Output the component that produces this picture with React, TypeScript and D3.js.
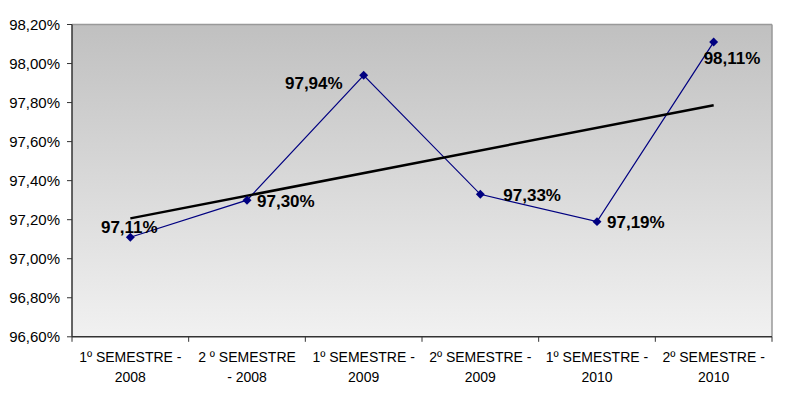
import React from "react";
import * as d3 from "d3";

const categories: string[][] = [
  ["1º SEMESTRE -", "2008"],
  ["2 º SEMESTRE", "- 2008"],
  ["1º SEMESTRE -", "2009"],
  ["2º SEMESTRE -", "2009"],
  ["1º SEMESTRE -", "2010"],
  ["2º SEMESTRE -", "2010"],
];
const values: number[] = [97.11, 97.3, 97.94, 97.33, 97.19, 98.11];
const yTicks: number[] = [96.6, 96.8, 97.0, 97.2, 97.4, 97.6, 97.8, 98.0, 98.2];
// label offsets relative to point: [dx, dy, anchor]
const labelOffsets: [number, number, string][] = [
  [-1, -4, "middle"],
  [10, 7, "start"],
  [-21, 14, "end"],
  [23, 7, "start"],
  [10, 6, "start"],
  [-10, 22, "start"],
];

const W = 805;
const H = 407;
const L = 72, R = 772, T = 24.5, B = 336.8;

const fmt = (v: number) => v.toFixed(2).replace(".", ",") + "%";

export default function App() {
  const x = d3.scaleBand<number>().domain(d3.range(values.length)).range([L, R]);
  const cx = (i: number) => (x(i) as number) + x.bandwidth() / 2;
  const y = d3.scaleLinear().domain([96.6, 98.2]).range([B, T]);

  const line = d3
    .line<number>()
    .x((_, i) => cx(i))
    .y((d) => y(d));

  // linear trend (least squares)
  const xs = values.map((_, i) => i + 1);
  const mx = d3.mean(xs) as number;
  const my = d3.mean(values) as number;
  const slope =
    d3.sum(xs.map((xi, i) => (xi - mx) * (values[i] - my))) /
    d3.sum(xs.map((xi) => (xi - mx) ** 2));
  const icpt = my - slope * mx;
  const trend = (k: number) => icpt + slope * (k + 1);
  const n = values.length;

  const font = "'Liberation Sans', Arial, sans-serif";
  const diamond = d3.symbol().type(d3.symbolSquare).size(40)() as string;

  return (
    <svg
      width={W}
      height={H}
      style={{ position: "absolute", left: 0, top: 0, background: "#fff" }}
      fontFamily={font}
    >
      <defs>
        <linearGradient id="bg" x1="0" y1="0" x2="0" y2="1">
          <stop offset="0" stopColor="#c0c0c0" />
          <stop offset="1" stopColor="#f1f1f1" />
        </linearGradient>
      </defs>
      <rect x={L} y={T} width={R - L} height={B - T} fill="url(#bg)" />
      <line x1={L} x2={R} y1={T} y2={T} stroke="#999" strokeWidth={1.5} />
      <line x1={R} x2={R} y1={T} y2={B} stroke="#999" strokeWidth={1.5} />
      {/* y axis */}
      <line x1={L} x2={L} y1={T} y2={B} stroke="#333" strokeWidth={1.5} />
      {yTicks.map((t) => (
        <g key={t}>
          <line x1={L - 5} x2={L} y1={y(t)} y2={y(t)} stroke="#333" strokeWidth={1} />
          <text x={60} y={y(t) + 5} textAnchor="end" fontSize={15} fill="#000">
            {fmt(t)}
          </text>
        </g>
      ))}
      {/* x axis */}
      <line x1={L} x2={R} y1={B} y2={B} stroke="#333" strokeWidth={1.5} />
      {d3.range(n + 1).map((i) => {
        const xx = L + i * x.step();
        return <line key={i} x1={xx} x2={xx} y1={B} y2={B + 5} stroke="#333" strokeWidth={1} />;
      })}
      {categories.map((c, i) => (
        <text key={i} textAnchor="middle" fontSize={14} fill="#000">
          {c.map((s, j) => (
            <tspan key={j} x={cx(i)} y={362 + j * 19.5}>
              {s}
            </tspan>
          ))}
        </text>
      ))}
      {/* series */}
      <path d={line(values) as string} fill="none" stroke="#000080" strokeWidth={1.2} />
      {/* trend */}
      <line
        x1={cx(0)}
        y1={y(trend(0))}
        x2={cx(n - 1)}
        y2={y(trend(n - 1))}
        stroke="#000"
        strokeWidth={2.5}
      />
      {values.map((v, i) => (
        <path
          key={i}
          d={diamond}
          transform={`translate(${cx(i)},${y(v)}) rotate(45)`}
          fill="#000080"
        />
      ))}
      {values.map((v, i) => {
        const [dx, dy, anchor] = labelOffsets[i];
        return (
          <text
            key={i}
            x={cx(i) + dx}
            y={y(v) + dy}
            textAnchor={anchor as any}
            fontSize={17}
            fontWeight="bold"
            fill="#000"
          >
            {fmt(v)}
          </text>
        );
      })}
    </svg>
  );
}
